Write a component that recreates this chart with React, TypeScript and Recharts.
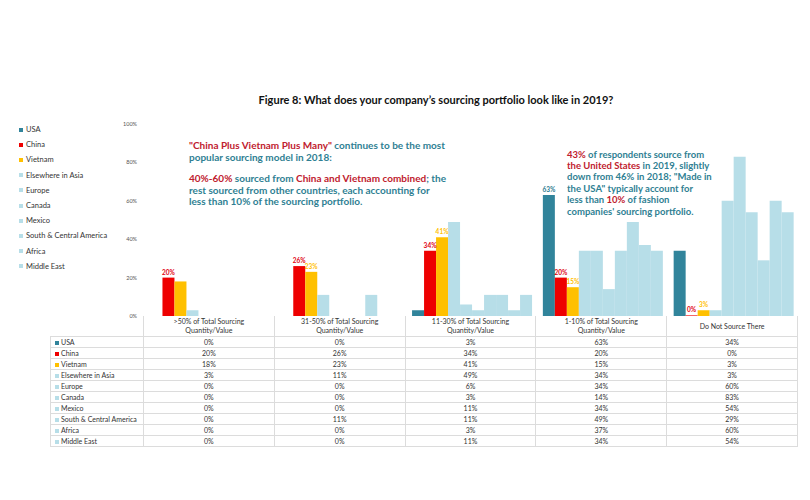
import React from 'react';
import { BarChart, Bar, XAxis, YAxis, LabelList } from 'recharts';

const categories = [
  '>50% of Total Sourcing Quantity/Value',
  '31-50% of Total Sourcing Quantity/Value',
  '11-30% of Total Sourcing Quantity/Value',
  '1-10% of Total Sourcing Quantity/Value',
  'Do Not Source There',
];
const categoryLines = [
  ['>50% of Total Sourcing', 'Quantity/Value'],
  ['31-50% of Total Sourcing', 'Quantity/Value'],
  ['11-30% of Total Sourcing', 'Quantity/Value'],
  ['1-10% of Total Sourcing', 'Quantity/Value'],
  ['Do Not Source There'],
];

const usa = [0, 0, 3, 63, 34];
const china = [20, 26, 34, 20, 0];
const vietnam = [18, 23, 41, 15, 3];
const elsewhereInAsia = [3, 11, 49, 34, 3];
const europe = [0, 0, 6, 34, 60];
const canada = [0, 0, 3, 14, 83];
const mexico = [0, 0, 11, 34, 54];
const southCentralAmerica = [0, 11, 11, 49, 29];
const africa = [0, 0, 3, 37, 60];
const middleEast = [0, 0, 11, 34, 54];

const yTicks = [0, 20, 40, 60, 80, 100];

const seriesNames = [
  'USA', 'China', 'Vietnam', 'Elsewhere in Asia', 'Europe', 'Canada', 'Mexico',
  'South & Central America', 'Africa', 'Middle East',
];
const seriesValues = [
  usa, china, vietnam, elsewhereInAsia, europe, canada, mexico, southCentralAmerica, africa, middleEast,
];
const seriesColors = [
  '#31849B', '#EE0000', '#FFC000', '#B7DEE8', '#B7DEE8', '#B7DEE8', '#B7DEE8', '#B7DEE8', '#B7DEE8', '#B7DEE8',
];
// which category indices carry a data label, per series
const labelledPoints: Record<string, number[]> = {
  USA: [3],
  China: [0, 1, 2, 3, 4],
  Vietnam: [1, 2, 3, 4],
};
const labelColors: Record<string, string> = {
  USA: '#2A7A90',
  China: '#E00010',
  Vietnam: '#FFC000',
};

const data = categories.map((c, i) => {
  const row: Record<string, any> = { category: c };
  seriesNames.forEach((n, s) => {
    row[n] = seriesValues[s][i];
    const shown = labelledPoints[n];
    row[`${n}__label`] = shown && shown.includes(i) ? `${seriesValues[s][i]}%` : null;
  });
  return row;
});

// a series needs a hairline minimum bar only if it has a labelled zero value
const needsMinBar = (s: number) => {
  const shown = labelledPoints[seriesNames[s]];
  if (!shown) return false;
  const zeros = seriesValues[s].map((v, i) => (v === 0 ? i : -1)).filter((i) => i >= 0);
  return zeros.length > 0 && zeros.every((i) => shown.includes(i));
};

const FONT = 'Lato, "Open Sans", sans-serif';
const RED = '#C0202E';
const TEAL = '#2F7F93';

const makeLabel = (name: string) => (props: any) => {
  const { x, y, width, value } = props;
  if (value === null || value === undefined || value === '') return null;
  return (
    <text
      x={Number(x) + Number(width) / 2}
      y={Number(y) - 3}
      fill={labelColors[name]}
      fontSize={6.5}
      fontWeight={700}
      textAnchor="middle"
      fontFamily={FONT}
    >
      {value}
    </text>
  );
};

const W = 810;
const H = 500;
const PLOT_LEFT = 143;
const PLOT_RIGHT = 797;
const PLOT_TOP = 124;
const PLOT_BOTTOM = 316;

export default function App() {
  const colW = (PLOT_RIGHT - PLOT_LEFT) / categories.length;
  const tableLeft = 50;
  const firstColW = PLOT_LEFT - tableLeft;
  const headerH = 20.5;
  const rowH = 11;
  const border = '1px solid #DCDCDC';

  return (
    <div style={{ position: 'absolute', left: 0, top: 0, width: W, height: H, background: '#fff', fontFamily: FONT }}>
      <BarChart
        width={W}
        height={H}
        data={data}
        margin={{ top: PLOT_TOP, right: W - PLOT_RIGHT, bottom: H - PLOT_BOTTOM, left: 0 }}
        barCategoryGap="5.7%"
        barGap={0}
      >
        <XAxis dataKey="category" hide />
        <YAxis
          width={PLOT_LEFT}
          domain={[0, 100]}
          ticks={yTicks}
          tickFormatter={(v: number) => `${v}%`}
          axisLine={false}
          tickLine={false}
          tickSize={0}
          tickMargin={6}
          tick={{ fontSize: 5.5, fill: '#555', fontFamily: FONT }}
        />
        {seriesNames.map((n, s) => (
          <Bar
            key={n}
            dataKey={n}
            fill={seriesColors[s]}
            isAnimationActive={false}
            minPointSize={needsMinBar(s) ? (v: number) => (v === 0 ? 0.6 : 0) : 0}
          >
            {labelledPoints[n] ? <LabelList dataKey={`${n}__label`} content={makeLabel(n)} /> : null}
          </Bar>
        ))}
      </BarChart>

      {/* Title */}
      <div
        style={{
          position: 'absolute', left: 0, width: 872, top: 93, textAlign: 'center',
          fontSize: 11, fontWeight: 700, color: '#111', whiteSpace: 'nowrap',
        }}
      >
        Figure 8: What does your company’s sourcing portfolio look like in 2019?
      </div>

      {/* Left legend */}
      <div style={{ position: 'absolute', left: 19, top: 122 }}>
        {seriesNames.map((n, s) => (
          <div key={n} style={{ height: 15.2, display: 'flex', alignItems: 'center', fontSize: 7.5, color: '#333', whiteSpace: 'nowrap' }}>
            <span style={{ display: 'inline-block', width: 4, height: 4, background: seriesColors[s], marginRight: 3 }} />
            {n}
          </div>
        ))}
      </div>

      {/* Annotation 1 */}
      <div
        style={{
          position: 'absolute', left: 189, top: 140, fontSize: 10, fontWeight: 700,
          lineHeight: '11.5px', color: TEAL, whiteSpace: 'nowrap',
        }}
      >
        <div><span style={{ color: RED }}>"China Plus Vietnam Plus Many"</span> continues to be the most</div>
        <div>popular sourcing model in 2018:</div>
        <div style={{ height: 10 }} />
        <div><span style={{ color: RED }}>40%-60%</span> sourced from <span style={{ color: RED }}>China and Vietnam combined</span>; the</div>
        <div>rest sourced from other countries, each accounting for</div>
        <div>less than 10% of the sourcing portfolio.</div>
      </div>

      {/* Annotation 2 */}
      <div
        style={{
          position: 'absolute', left: 567, top: 148.5, fontSize: 9.5, fontWeight: 700,
          lineHeight: '11.4px', color: TEAL, whiteSpace: 'nowrap',
        }}
      >
        <div><span style={{ color: RED }}>43%</span> of respondents source from</div>
        <div><span style={{ color: RED }}>the United States</span> in 2019, slightly</div>
        <div>down from 46% in 2018; "Made in</div>
        <div>the USA" typically account for</div>
        <div>less than <span style={{ color: RED }}>10%</span> of fashion</div>
        <div>companies' sourcing portfolio.</div>
      </div>

      {/* Data table */}
      <table
        style={{
          position: 'absolute', left: tableLeft, top: PLOT_BOTTOM, borderCollapse: 'collapse',
          tableLayout: 'fixed', width: PLOT_RIGHT - tableLeft, fontSize: 7, color: '#333',
        }}
      >
        <colgroup>
          <col style={{ width: firstColW }} />
          {categories.map((c) => <col key={c} style={{ width: colW }} />)}
        </colgroup>
        <tbody>
          <tr style={{ height: headerH }}>
            <td style={{ padding: 0 }} />
            {categoryLines.map((lines, i) => (
              <td key={i} style={{ borderLeft: border, borderRight: border, borderBottom: border, padding: 0, textAlign: 'center', lineHeight: '9px', verticalAlign: 'middle' }}>
                {lines.map((l) => <div key={l}>{l}</div>)}
              </td>
            ))}
          </tr>
          {seriesNames.map((n, s) => (
            <tr key={n} style={{ height: rowH }}>
              <td style={{ border, padding: 0, paddingLeft: 4, whiteSpace: 'nowrap', lineHeight: '10px', overflow: 'hidden' }}>
                <span style={{ display: 'inline-block', width: 4, height: 4, background: seriesColors[s], marginRight: 2, verticalAlign: 'middle' }} />
                {n}
              </td>
              {seriesValues[s].map((v, i) => (
                <td key={i} style={{ border, padding: 0, textAlign: 'center', lineHeight: '10px' }}>{v}%</td>
              ))}
            </tr>
          ))}
        </tbody>
      </table>
    </div>
  );
}
